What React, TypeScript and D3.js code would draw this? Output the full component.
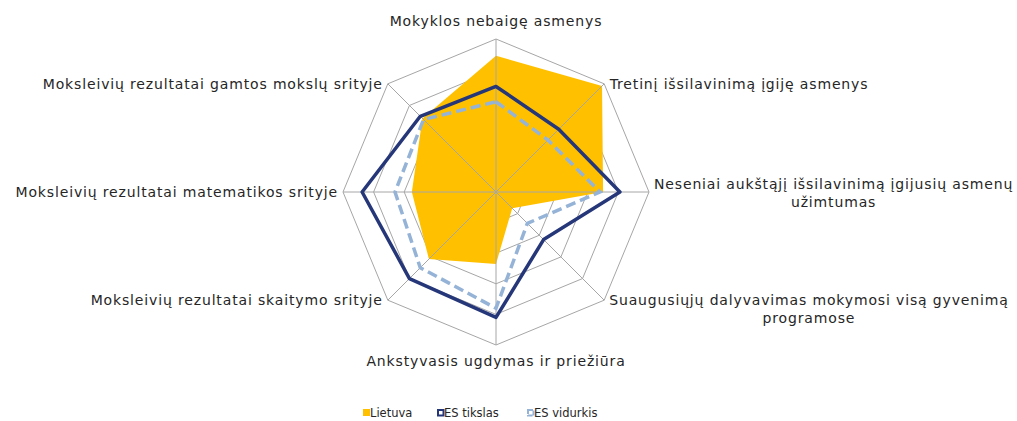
import React, { useEffect, useRef } from "react";
import * as d3 from "d3";

const categories: string[][] = [
  ["Mokyklos nebaigę asmenys"],
  ["Tretinį išsilavinimą įgiję asmenys"],
  ["Neseniai aukštąjį išsilavinimą įgijusių asmenų", "užimtumas"],
  ["Suaugusiųjų dalyvavimas mokymosi visą gyvenimą", "programose"],
  ["Ankstyvasis ugdymas ir priežiūra"],
  ["Moksleivių rezultatai skaitymo srityje"],
  ["Moksleivių rezultatai matematikos srityje"],
  ["Moksleivių rezultatai gamtos mokslų srityje"],
];

const lietuva = [89, 98, 70, 15, 47, 62, 55, 68];
const esTikslas = [69, 58, 81, 44, 82, 80, 87.5, 70];
const esVidurkis = [59, 48, 68, 29, 76, 70, 66, 67];
const ringTicks = [20, 40, 60, 80, 100];
const seriesNames = ["Lietuva", "ES tikslas", "ES vidurkis"];

const W = 1017;
const H = 421;
const cx = 496;
const cy = 192;
const R = 153;
const FONT = "DejaVu Sans, Verdana, sans-serif";

export default function App() {
  const ref = useRef<SVGSVGElement | null>(null);

  useEffect(() => {
    const svg = d3.select(ref.current);
    svg.selectAll("*").remove();
    const n = categories.length;
    const r = d3.scaleLinear().domain([0, 100]).range([0, R]);
    const angle = (i: number) => (i * 2 * Math.PI) / n;
    const pt = (i: number, v: number): [number, number] => [
      cx + r(v) * Math.sin(angle(i)),
      cy - r(v) * Math.cos(angle(i)),
    ];
    const g = svg.append("g");
    const closed = d3.line<[number, number]>().curve(d3.curveLinearClosed);

    // rings
    g.selectAll("path.ring")
      .data(ringTicks)
      .join("path")
      .attr("class", "ring")
      .attr("d", (t) => closed(d3.range(n).map((i) => pt(i, t))))
      .attr("fill", "none")
      .attr("stroke", "#A6A6A6")
      .attr("stroke-width", 1);

    // Lietuva fill
    g.append("path")
      .attr("d", closed(lietuva.map((v, i) => pt(i, v))))
      .attr("fill", "#FFC000");

    // spokes
    g.selectAll("line.spoke")
      .data(d3.range(n))
      .join("line")
      .attr("x1", cx)
      .attr("y1", cy)
      .attr("x2", (i) => pt(i, 100)[0])
      .attr("y2", (i) => pt(i, 100)[1])
      .attr("stroke", "#A6A6A6")
      .attr("stroke-width", 1);

    g.append("path")
      .attr("d", closed(esTikslas.map((v, i) => pt(i, v))))
      .attr("fill", "none")
      .attr("stroke", "#263779")
      .attr("stroke-width", 3.5)
      .attr("stroke-linejoin", "round");

    g.append("path")
      .attr("d", closed(esVidurkis.map((v, i) => pt(i, v))))
      .attr("fill", "none")
      .attr("stroke", "#95B3D7")
      .attr("stroke-width", 3.5)
      .attr("stroke-dasharray", "10,5");

    // category labels
    const fs = 14;
    const lh = 18;
    categories.forEach((lines, i) => {
      const a = angle(i);
      const s = Math.sin(a);
      const c = Math.cos(a);
      const [px, py] = pt(i, 100);
      const t = g
        .append("text")
        .attr("font-family", FONT)
        .attr("font-size", fs)
        .attr("letter-spacing", 0.85)
        .attr("fill", "#262626")
        .attr("text-anchor", "middle");
      lines.forEach((ln, k) => {
        t.append("tspan").attr("x", 0).attr("y", k * lh).text(ln);
      });
      const node = t.node() as SVGTextElement;
      const bb = node.getBBox();
      const w = bb.width;
      let x = px;
      let y = py;
      if (Math.abs(s) < 0.01) {
        y = c > 0 ? py - 13 - (lines.length - 1) * lh : py + 21;
      } else {
        const gap = 5;
        x = s > 0 ? px + gap + w / 2 : px - gap - w / 2;
        y = py + 5 - (Math.abs(c) < 0.01 ? (lines.length - 1) * lh * 0.45 : 0);
      }
      t.attr("transform", `translate(${x},${y})`);
    });

    // legend
    const lg = g.append("g").attr("transform", "translate(0,413)");
    const items = [
      { x: 363, name: seriesNames[0] },
      { x: 437, name: seriesNames[1] },
      { x: 527, name: seriesNames[2] },
    ];
    items.forEach((it, k) => {
      if (k === 0) {
        lg.append("rect").attr("x", it.x).attr("y", -4).attr("width", 7).attr("height", 7).attr("fill", "#FFC000");
      } else if (k === 1) {
        lg.append("rect").attr("x", it.x + 1).attr("y", -3).attr("width", 5.5).attr("height", 5.5)
          .attr("fill", "#fff").attr("stroke", "#263779").attr("stroke-width", 2);
      } else {
        lg.append("rect").attr("x", it.x + 1).attr("y", -3).attr("width", 5.5).attr("height", 5.5)
          .attr("fill", "#fff").attr("stroke", "#95B3D7").attr("stroke-width", 2).attr("stroke-dasharray", "5,1");
      }
      lg.append("text")
        .attr("x", it.x + 7)
        .attr("y", 4)
        .attr("font-family", FONT)
        .attr("font-size", 11.5)
        .attr("fill", "#262626")
        .text(it.name);
    });
  }, []);

  return (
    <svg
      ref={ref}
      width={W}
      height={H}
      style={{ position: "absolute", left: 0, top: 0, background: "#fff" }}
    />
  );
}
